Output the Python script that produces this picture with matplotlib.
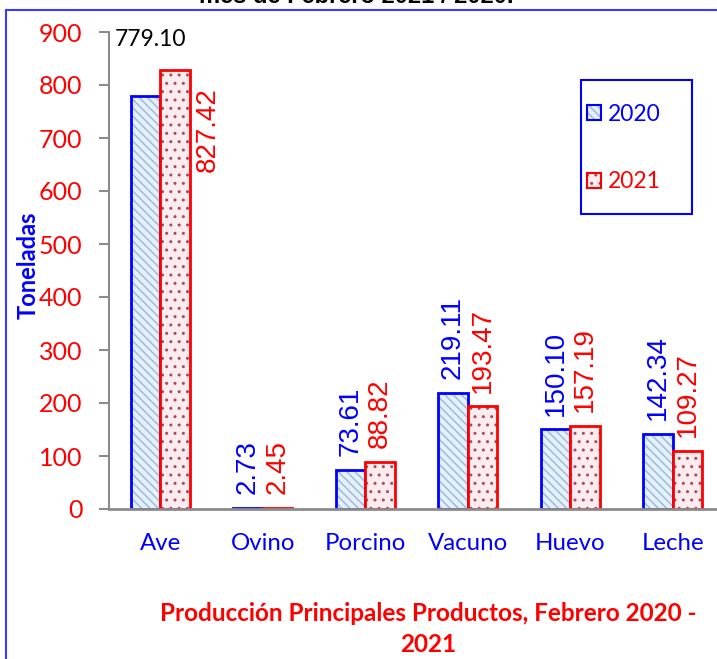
import numpy as np
import matplotlib.pyplot as plt
from matplotlib.patches import Rectangle, Patch

# data
categorias = ['Ave', 'Ovino', 'Porcino', 'Vacuno', 'Huevo', 'Leche']
valores_2020 = [779.10, 2.73, 73.61, 219.11, 150.10, 142.34]
valores_2021 = [827.42, 2.45, 88.82, 193.47, 157.19, 109.27]

AZUL = '#0000ff'
ROJO = '#ff0000'
GRIS = '#8c8c8c'

fig = plt.figure(figsize=(7.17, 6.59), dpi=100)
ax = fig.add_axes([109 / 717, 1 - 509 / 659, 615 / 717, 477 / 659])

x = np.arange(len(categorias))
w = 0.288

# hatched fill first, then the solid outline on top
ax.bar(x - w / 2, valores_2020, w, color='#e4f0fb', edgecolor='#9bb7d6',
       hatch='\\\\\\\\', linewidth=0)
ax.bar(x - w / 2, valores_2020, w, fill=False, edgecolor=AZUL, linewidth=2)
ax.bar(x + w / 2, valores_2021, w, color='#fdeced', edgecolor='#a84a66',
       hatch='..', linewidth=0)
ax.bar(x + w / 2, valores_2021, w, fill=False, edgecolor=ROJO, linewidth=2)

ax.set_xlim(-0.5, len(categorias) - 0.5)
ax.set_ylim(0, 900)
ax.set_yticks(range(0, 901, 100))

for s in ['top', 'right']:
    ax.spines[s].set_visible(False)
ax.spines['left'].set_color(GRIS)
ax.spines['left'].set_linewidth(1.5)
ax.spines['bottom'].set_color(GRIS)
ax.spines['bottom'].set_linewidth(2)

ax.set_xticks(x)
ax.set_xticklabels(categorias, color=AZUL, fontsize=17.3, family='Lato')
ax.tick_params(axis='x', length=0, pad=17)
ax.tick_params(axis='y', colors=GRIS, length=7, width=1.5, pad=12,
               labelcolor=ROJO, labelsize=18)
for t in ax.get_yticklabels():
    t.set_family('Lato')

ax.set_ylabel('Toneladas', color=AZUL, fontsize=17, fontweight='bold', family='Lato')
ax.yaxis.set_label_coords(40 / 717, 1 - 265 / 659, transform=fig.transFigure)

# value labels
for i in range(1, len(categorias)):
    ax.annotate(f'{valores_2020[i]:.2f}', (x[i] - w / 2, valores_2020[i]),
                xytext=(0, 10), textcoords='offset points', rotation=90,
                ha='center', va='bottom', color=AZUL, fontsize=20,
                family='Liberation Sans')
    ax.annotate(f'{valores_2021[i]:.2f}', (x[i] + w / 2, valores_2021[i]),
                xytext=(0, 10), textcoords='offset points', rotation=90,
                ha='center', va='bottom', color=ROJO, fontsize=20,
                family='Liberation Sans')
ax.text(-0.445, 885, f'{valores_2020[0]:.2f}', ha='left', va='center',
        color='black', fontsize=16.5, family='Lato')
ax.text(0.466, 796, f'{valores_2021[0]:.2f}', rotation=90, ha='center',
        va='top', color=ROJO, fontsize=20, family='Liberation Sans')

# legend
h20 = (Patch(facecolor='#e4f0fb', edgecolor='#9bb7d6', hatch='\\\\\\\\', linewidth=0),
       Patch(fill=False, edgecolor=AZUL, linewidth=1.5))
h21 = (Patch(facecolor='#fdeced', edgecolor='#a84a66', hatch='..', linewidth=0),
       Patch(fill=False, edgecolor=ROJO, linewidth=1.5))
leg = fig.legend([h20, h21], ['2020', '2021'], loc='center',
                 bbox_to_anchor=(624 / 717, 1 - 148 / 659), frameon=False,
                 prop={'family': 'Lato', 'size': 16.5}, handlelength=0.62,
                 handleheight=0.62, handletextpad=0.3, labelspacing=2.05)
for t, c in zip(leg.get_texts(), [AZUL, ROJO]):
    t.set_color(c)
fig.patches.append(Rectangle((581 / 717, 1 - 214 / 659), 111 / 717, 134 / 659,
                             transform=fig.transFigure, fill=False,
                             edgecolor=AZUL, linewidth=1.5))

# outer frame and titles
fig.patches.append(Rectangle((6 / 717, -0.1), 1.2, 1.1 - 10 / 659,
                             transform=fig.transFigure, fill=False,
                             edgecolor='#3a3aff', linewidth=1.5))
fig.text(356 / 717, 1 - 3 / 659, 'mes de Febrero 2021 / 2020.', ha='center',
         va='baseline', fontsize=17, fontweight='bold', family='Liberation Sans')
fig.text(428 / 717, 1 - 629 / 659,
         'Producción Principales Productos, Febrero 2020 -\n2021',
         ha='center', va='center', color=ROJO, fontsize=17.5, fontweight='bold',
         family='Lato', linespacing=1.42)

fig.savefig('out.png', dpi=100)
